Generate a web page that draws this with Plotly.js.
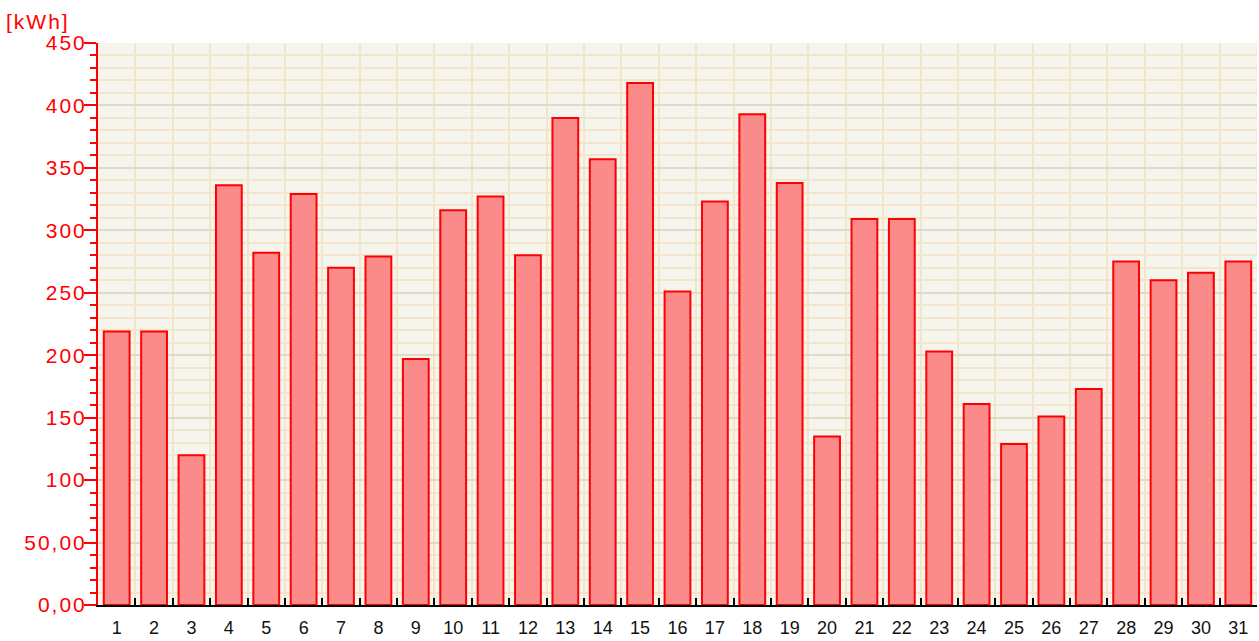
<!DOCTYPE html>
<html>
<head>
<meta charset="utf-8">
<script src="https://cdn.plot.ly/plotly-3.0.1.min.js"></script>
<style>
html,body{margin:0;padding:0;background:#fff;}
#chart{width:1259px;height:641px;}
#chart .ytick text{letter-spacing:2px;}
#chart .annotation-text{letter-spacing:2px;}
</style>
</head>
<body>
<div id="chart"></div>
<script>
var days = ['1','2','3','4','5','6','7','8','9','10','11','12','13','14','15','16','17','18','19','20','21','22','23','24','25','26','27','28','29','30','31'];
var energy = [219,219,120,336,282,329,270,279,197,316,327,280,390,357,418,251,323,393,338,135,309,309,203,161,129,151,173,275,260,266,275];
var yTickVals = [0,50,100,150,200,250,300,350,400,450];
var yTickText = ['0,00','50,00','100','150','200','250','300','350','400','450'];
var unitLabel = '[kWh]';

var trace = {
  type: 'bar',
  x: days,
  y: energy,
  marker: {color: '#fb8b8b', line: {color: '#ff0000', width: 2}},
  hoverinfo: 'x+y'
};

var layout = {
  width: 1259, height: 641,
  margin: {l: 98, r: 2, t: 43, b: 36, pad: 0},
  paper_bgcolor: '#ffffff',
  plot_bgcolor: '#f5f5ee',
  bargap: 0.31,
  showlegend: false,
  font: {family: 'Liberation Sans, Arial, sans-serif'},
  xaxis: {
    type: 'category',
    tickson: 'boundaries',
    ticks: 'inside', ticklen: 7, tickwidth: 2, tickcolor: '#000',
    showgrid: true, gridcolor: '#f1e6cc', gridwidth: 2,
    showline: true, linecolor: '#000', linewidth: 2,
    tickfont: {size: 18, color: '#111'},
    ticklabelstandoff: 5,
    zeroline: false, fixedrange: true
  },
  yaxis: {
    range: [0, 450],
    tickvals: yTickVals, ticktext: yTickText,
    ticks: 'outside', ticklen: 12, tickwidth: 2, tickcolor: '#ff0000',
    showline: true, linecolor: '#ff0000', linewidth: 2,
    showgrid: true, gridcolor: '#dcdcc8', gridwidth: 2,
    tickfont: {size: 21, color: '#ff0000'},
    ticklabelstandoff: -7,
    zeroline: false, fixedrange: true,
    minor: {dtick: 10, tick0: 0, ticks: 'outside', ticklen: 6, tickwidth: 2, tickcolor: '#ff0000', showgrid: true, gridcolor: '#f1e6cc', gridwidth: 2}
  },
  annotations: [{
    text: unitLabel, xref: 'paper', yref: 'paper', x: -0.0765, y: 1.0, yshift: 22,
    xanchor: 'left', yanchor: 'middle', showarrow: false,
    font: {size: 21, color: '#ff0000'}
  }]
};

Plotly.newPlot('chart', [trace], layout, {displayModeBar: false, staticPlot: true});
</script>
</body>
</html>
